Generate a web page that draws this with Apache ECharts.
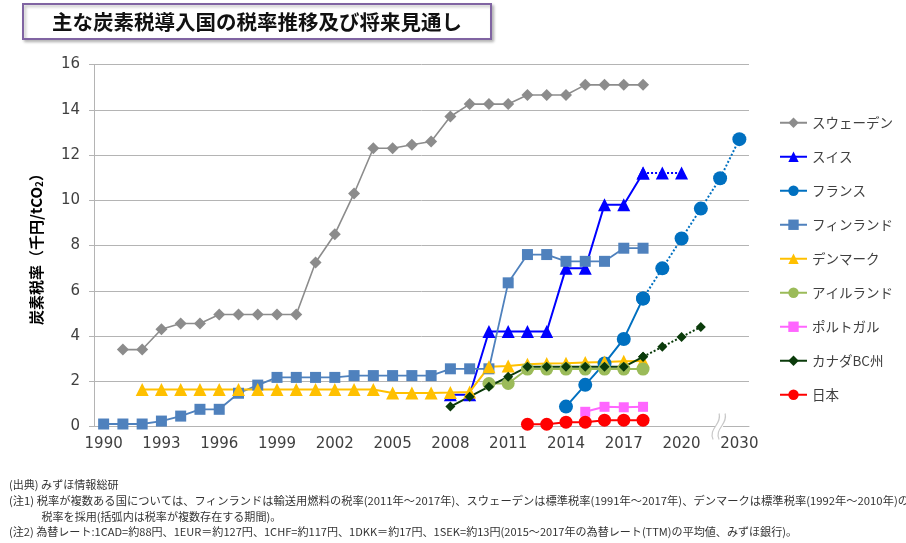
<!DOCTYPE html>
<html><head><meta charset="utf-8">
<script src="https://cdn.jsdelivr.net/npm/echarts@6/dist/echarts.min.js"></script>
<style>html,body{margin:0;padding:0;background:#fff;}#c{width:906px;height:543px;}</style>
</head><body><div id="c"></div>
<script>
// ---- categories ----
const years = ['1990','1991','1992','1993','1994','1995','1996','1997','1998','1999',
  '2000','2001','2002','2003','2004','2005','2006','2007','2008','2009',
  '2010','2011','2012','2013','2014','2015','2016','2017','2018','2019',
  '2020','2021','2022','2030'];

// ---- series values (千円/tCO2), with the first year of each ----
const swedenStart = '1991';
const sweden = [3.4,3.4,4.3,4.55,4.55,4.95,4.95,4.95,4.95,4.95,7.25,8.5,10.3,12.3,12.3,12.45,12.6,13.7,14.25,14.25,14.25,14.65,14.65,14.65,15.1,15.1,15.1,15.1];
const swissStart = '2008';
const swiss = [1.4,1.4,4.2,4.2,4.2,4.2,7.0,7.0,9.8,9.8,11.2];
const swissPlanStart = '2018';
const swissPlan = [11.2,11.2,11.2];
const franceStart = '2014';
const france = [0.88,1.84,2.79,3.87,5.66];
const francePlanStart = '2018';
const francePlan = [5.66,6.99,8.31,9.63,10.97,12.7];
const finlandStart = '1990';
const finland = [0.11,0.11,0.11,0.24,0.46,0.76,0.76,1.47,1.83,2.17,2.17,2.17,2.17,2.25,2.25,2.25,2.25,2.25,2.55,2.55,2.55,6.35,7.6,7.6,7.3,7.3,7.3,7.88,7.88];
const denmarkStart = '1992';
const denmark = [1.64,1.64,1.64,1.64,1.64,1.64,1.64,1.64,1.64,1.64,1.64,1.64,1.64,1.48,1.48,1.48,1.5,1.53,2.64,2.67,2.75,2.78,2.8,2.83,2.85,2.88,2.9];
const irelandStart = '2010';
const ireland = [1.9,1.9,2.54,2.54,2.54,2.54,2.54,2.54,2.54];
const portugalStart = '2015';
const portugal = [0.65,0.87,0.85,0.87];
const canadaStart = '2008';
const canada = [0.88,1.32,1.76,2.2,2.64,2.64,2.64,2.64,2.64,2.64,3.08];
const canadaPlanStart = '2018';
const canadaPlan = [3.08,3.52,3.96,4.4];
const japanStart = '2012';
const japan = [0.1,0.1,0.19,0.19,0.28,0.28,0.28];

const legendNames = ['スウェーデン','スイス','フランス','フィンランド','デンマーク','アイルランド','ポルトガル','カナダBC州','日本'];
const yTicks = [0,2,4,6,8,10,12,14,16];

const titleText = '主な炭素税導入国の税率推移及び将来見通し';
const notes = [
  '(出典) みずほ情報総研',
  '(注1) 税率が複数ある国については、フィンランドは輸送用燃料の税率(2011年～2017年)、スウェーデンは標準税率(1991年～2017年)、デンマークは標準税率(1992年～2010年)の',
  '税率を採用(括弧内は税率が複数存在する期間)。',
  '(注2) 為替レート:1CAD=約88円、1EUR＝約127円、1CHF=約117円、1DKK＝約17円、1SEK=約13円(2015～2017年の為替レート(TTM)の平均値、みずほ銀行)。'
];

function align(start, vals) {
  const out = years.map(() => null);
  const i0 = years.indexOf(start);
  vals.forEach((v, k) => { out[i0 + k] = v; });
  return out;
}

function mk(name, start, vals, color, symbol, size, width, dotted) {
  return {
    name, type: 'line', data: align(start, vals),
    symbol, symbolSize: size, showSymbol: true, showAllSymbol: true,
    itemStyle: { color },
    lineStyle: { color, width, type: dotted ? [2, 2] : 'solid' },
    emphasis: { disabled: true },
    animation: false
  };
}

const series = [
  mk('スウェーデン', swedenStart, sweden, '#8C8C8C', 'diamond', 12, 1.6),
  mk('スイス', swissStart, swiss, '#0000FF', 'triangle', 13, 2),
  mk('スイス', swissPlanStart, swissPlan, '#0000FF', 'triangle', 13, 2, true),
  mk('フランス', franceStart, france, '#0070C0', 'circle', 14, 2),
  mk('フランス', francePlanStart, francePlan, '#0070C0', 'circle', 14, 2, true),
  mk('フィンランド', finlandStart, finland, '#4F81BD', 'rect', 11, 1.8),
  mk('デンマーク', denmarkStart, denmark, '#FFC000', 'triangle', 13, 2),
  mk('アイルランド', irelandStart, ireland, '#9BBB59', 'circle', 13, 2),
  mk('ポルトガル', portugalStart, portugal, '#FF66FF', 'rect', 10, 2),
  mk('カナダBC州', canadaStart, canada, '#0B3B0B', 'diamond', 10, 2),
  mk('カナダBC州', canadaPlanStart, canadaPlan, '#0B3B0B', 'diamond', 10, 2, true),
  mk('日本', japanStart, japan, '#FF0000', 'circle', 13, 2)
];

// measure footnote width to match the reference's narrow font
const cv = document.createElement('canvas').getContext('2d');
const noteFont = '11px "Noto Sans CJK JP"';
cv.font = noteFont;
const noteScale = 788 / cv.measureText(notes[3]).width;
const note1Scale = 900 / cv.measureText(notes[1]).width;

const chart = echarts.init(document.getElementById('c'), null, { renderer: 'canvas' });
chart.setOption({
  animation: false,
  backgroundColor: '#fff',
  grid: { left: 94, right: 157, top: 64.5, bottom: 116.5 },
  legend: {
    data: legendNames, orient: 'vertical', left: 779, top: 116, padding: 0,
    itemWidth: 27, itemHeight: 13, itemGap: 20.5,
    textStyle: { fontSize: 13.5, color: '#404040', fontFamily: '"Noto Sans CJK JP"' }
  },
  xAxis: {
    type: 'category', data: years, boundaryGap: true,
    axisLine: { lineStyle: { color: '#B4B4B4', width: 1 } },
    axisTick: { show: false },
    axisLabel: { interval: 2, color: '#404040', fontSize: 15, fontFamily: '"DejaVu Sans"', margin: 10 },
    splitLine: { show: false }
  },
  yAxis: {
    type: 'value', min: yTicks[0], max: yTicks[yTicks.length - 1], interval: 2,
    name: '炭素税率（千円/tCO{sub|2}）', nameLocation: 'middle', nameGap: 50,
    nameTextStyle: { fontSize: 15, fontWeight: 'bold', color: '#000', fontFamily: '"Noto Sans CJK JP"',
      rich: { sub: { fontSize: 10, fontWeight: 'bold', verticalAlign: 'bottom', color: '#000', fontFamily: '"Noto Sans CJK JP"' } } },
    axisLine: { show: true, lineStyle: { color: '#B4B4B4', width: 1 } },
    axisTick: { show: true, length: 5, lineStyle: { color: '#B4B4B4' } },
    axisLabel: { color: '#404040', fontSize: 15, fontFamily: '"DejaVu Sans"', margin: 14 },
    splitLine: { lineStyle: { color: '#B4B4B4', width: 1 } }
  },
  series
});

// axis break mark on the x axis, at the gap before 2030
const p = chart.convertToPixel({ xAxisIndex: 0, yAxisIndex: 0 }, ['2022', 0]);
const bx = p[0], by = p[1];
chart.setOption({
  graphic: [
    { id: 'tbox', type: 'rect', shape: { x: 23, y: 4, width: 468, height: 35 },
      style: { fill: '#fff', stroke: '#8064A2', lineWidth: 2, shadowBlur: 3, shadowOffsetX: 2, shadowOffsetY: 2, shadowColor: 'rgba(0,0,0,0.25)' } },
    { id: 'ttext', type: 'text', x: 257, y: 22,
      style: { text: titleText, font: 'bold 20.5px "Noto Sans CJK JP"', fill: '#111', align: 'center', verticalAlign: 'middle' } },
    { id: 'n0', type: 'text', x: 9, y: 485, scaleX: noteScale, style: { text: notes[0], font: noteFont, fill: '#333', verticalAlign: 'middle' } },
    { id: 'n1', type: 'text', x: 9, y: 501, scaleX: note1Scale, style: { text: notes[1], font: noteFont, fill: '#333', verticalAlign: 'middle' } },
    { id: 'n2', type: 'text', x: 41.5, y: 516.5, scaleX: noteScale, style: { text: notes[2], font: noteFont, fill: '#333', verticalAlign: 'middle' } },
    { id: 'n3', type: 'text', x: 9, y: 532, scaleX: noteScale, style: { text: notes[3], font: noteFont, fill: '#333', verticalAlign: 'middle' } },
    { id: 'bk0', type: 'rect', shape: { x: bx - 5, y: by - 2, width: 8, height: 4 }, style: { fill: '#fff' }, z: 100 },
    { id: 'bk1', type: 'bezierCurve', shape: { x1: bx - 7, y1: by + 13, cpx1: bx - 12, cpy1: by + 2, cpx2: bx + 2, cpy2: by - 2, x2: bx - 1, y2: by - 13 },
      style: { stroke: '#C8C8C8', lineWidth: 1.2, fill: null }, z: 101 },
    { id: 'bk2', type: 'bezierCurve', shape: { x1: bx - 1, y1: by + 13, cpx1: bx - 6, cpy1: by + 2, cpx2: bx + 8, cpy2: by - 2, x2: bx + 5, y2: by - 13 },
      style: { stroke: '#C8C8C8', lineWidth: 1.2, fill: null }, z: 101 }
  ]
});
</script>
</body></html>
